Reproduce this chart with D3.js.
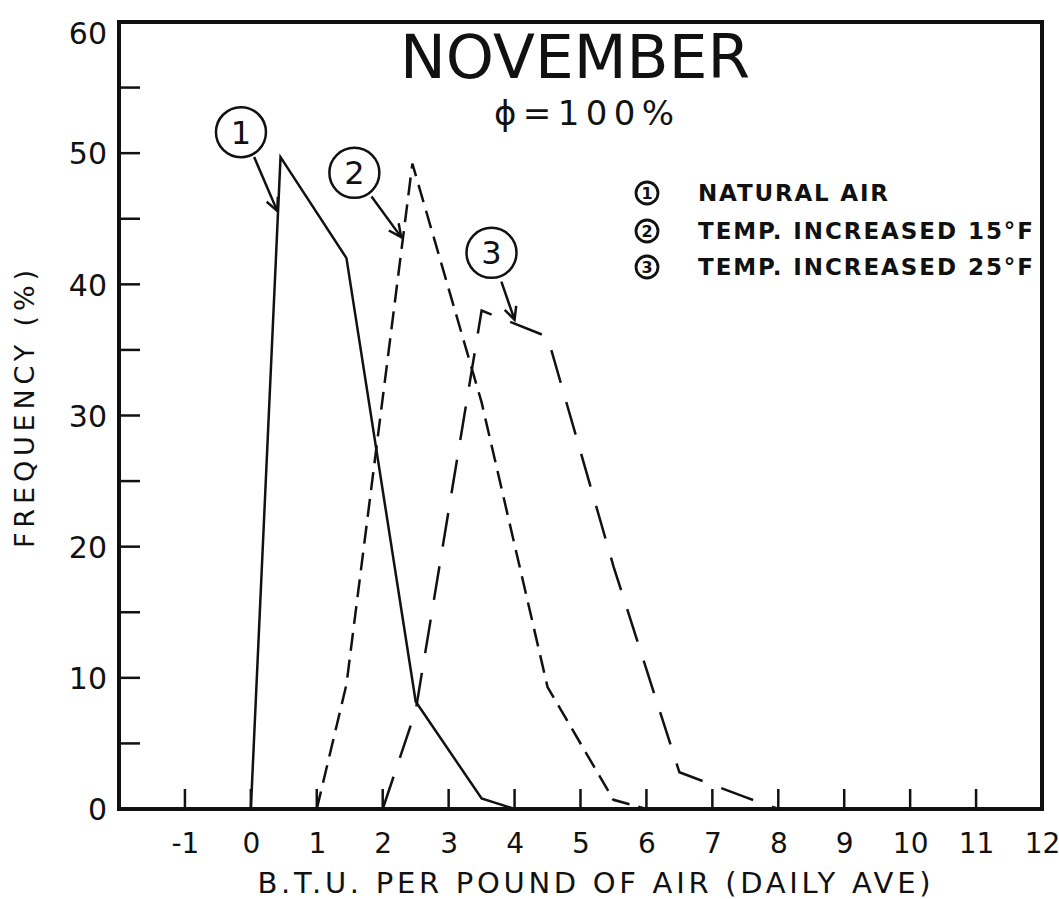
<!DOCTYPE html>
<html><head><meta charset="utf-8">
<script src="https://cdn.jsdelivr.net/npm/d3@7"></script>
<style>
html,body{margin:0;padding:0;background:#fff;}
text{font-family:"DejaVu Sans",sans-serif;fill:#111;}
</style></head>
<body>
<svg id="chart" width="1059" height="899"></svg>
<script>
// ---- data ----
const xTicks = [-1,0,1,2,3,4,5,6,7,8,9,10,11,12];
const yTicks = [0,10,20,30,40,50,60];
const yMinorTicks = [5,15,25,35,45,55];
const naturalAir = [[0,0],[0.45,49.7],[1.45,42],[2.5,8.2],[3.5,0.8],[4,0]];
const temp15 = [[1,0],[1.45,9.5],[2.45,49.2],[3.5,31],[4.5,9.3],[5.5,0.7],[6,0]];
const temp25 = [[2,0],[2.5,7.5],[3.5,38],[4.5,36],[5.5,18.5],[6.5,2.8],[7.5,0.9],[8,0]];
const legendLabels = ["NATURAL  AIR","TEMP.  INCREASED 15°F","TEMP.  INCREASED 25°F"];
const legendNums = ["1","2","3"];
// annotation callouts (data units): circle centre, arrow start, arrow end
const callouts = [
  {n:"1", c:[-0.15,51.6], a:[0.05,49.7], b:[0.4,45.6]},
  {n:"2", c:[1.57,48.5], a:[1.83,46.7], b:[2.28,43.6]},
  {n:"3", c:[3.65,42.4], a:[3.8,40.2], b:[4.0,37.3]}
];

const svg = d3.select("#chart");
const x = d3.scaleLinear().domain([-2,12]).range([119,1042]);
const y = d3.scaleLinear().domain([0,60]).range([809,22]);

// frame
svg.append("rect").attr("x",x(-2)).attr("y",y(60))
  .attr("width",x(12)-x(-2)).attr("height",y(0)-y(60))
  .attr("fill","none").attr("stroke","#111").attr("stroke-width",4);

// x ticks (inside, upward)
const xAxis = d3.axisBottom(x).tickValues(xTicks).tickSize(0).tickPadding(0).tickFormat(d=>d);
const gx = svg.append("g").attr("transform",`translate(0,${y(0)})`).call(xAxis);
gx.select(".domain").remove();
gx.selectAll(".tick line").remove();
gx.selectAll(".tick text").attr("y",44).attr("dy",0)
  .style("font-size","28px").style("font-family","DejaVu Sans, sans-serif").attr("fill","#111");
svg.append("g").selectAll("line").data(xTicks.filter(d=>d<12)).join("line")
  .attr("x1",d=>x(d)).attr("x2",d=>x(d)).attr("y1",y(0)).attr("y2",y(0)-20)
  .attr("stroke","#111").attr("stroke-width",2.5);

// y ticks
const yAxis = d3.axisLeft(y).tickValues(yTicks).tickSize(0).tickPadding(12).tickFormat(d=>d);
const gy = svg.append("g").attr("transform",`translate(${x(-2)},0)`).call(yAxis);
gy.select(".domain").remove();
gy.selectAll(".tick text").style("font-size","30px").style("font-family","DejaVu Sans, sans-serif")
  .attr("fill","#111").attr("dy",d=>d===60?"0.7em":"0.36em");
svg.append("g").selectAll("line").data(yTicks.filter(d=>d>0&&d<60).concat(yMinorTicks)).join("line")
  .attr("x1",x(-2)).attr("x2",x(-2)+21).attr("y1",d=>y(d)).attr("y2",d=>y(d))
  .attr("stroke","#111").attr("stroke-width",2.5);

// series
const line = d3.line().x(d=>x(d[0])).y(d=>y(d[1]));
svg.append("path").datum(naturalAir).attr("d",line).attr("fill","none")
  .attr("stroke","#111").attr("stroke-width",2.5);
svg.append("path").datum(temp15).attr("d",line).attr("fill","none")
  .attr("stroke","#111").attr("stroke-width",2.5).attr("stroke-dasharray","18,9");
svg.append("path").datum(temp25).attr("d",line).attr("fill","none")
  .attr("stroke","#111").attr("stroke-width",2.5).attr("stroke-dasharray","34,20");

// callouts
const cg = svg.append("g");
callouts.forEach(c=>{
  cg.append("circle").attr("cx",x(c.c[0])).attr("cy",y(c.c[1])).attr("r",25)
    .attr("fill","#fff").attr("stroke","#111").attr("stroke-width",2.5);
  cg.append("text").attr("x",x(c.c[0])).attr("y",y(c.c[1])).attr("dy","0.36em")
    .attr("text-anchor","middle").style("font-size","32px").text(c.n);
  const x1=x(c.a[0]), y1=y(c.a[1]), x2=x(c.b[0]), y2=y(c.b[1]);
  cg.append("line").attr("x1",x1).attr("y1",y1).attr("x2",x2).attr("y2",y2)
    .attr("stroke","#111").attr("stroke-width",2.5);
  const ang=Math.atan2(y2-y1,x2-x1), L=14, sp=0.45;
  const p=[[x2-L*Math.cos(ang-sp),y2-L*Math.sin(ang-sp)],[x2,y2],[x2-L*Math.cos(ang+sp),y2-L*Math.sin(ang+sp)]];
  cg.append("path").attr("d",d3.line()(p)).attr("fill","none").attr("stroke","#111").attr("stroke-width",2.5);
});

// title
svg.append("text").attr("x",575).attr("y",78).attr("text-anchor","middle")
  .style("font-size","60px").attr("textLength",350).attr("lengthAdjust","spacingAndGlyphs").text("NOVEMBER");
svg.append("text").attr("x",584).attr("y",125).attr("text-anchor","middle")
  .style("font-size","34px").attr("textLength",180).attr("lengthAdjust","spacing").text("ϕ=100%");

// legend
const lg = svg.append("g");
legendLabels.forEach((t,i)=>{
  const cy = [193,231,267][i];
  lg.append("circle").attr("cx",647).attr("cy",cy).attr("r",11)
    .attr("fill","none").attr("stroke","#111").attr("stroke-width",2.8);
  lg.append("text").attr("x",647).attr("y",cy).attr("dy","0.36em").attr("text-anchor","middle")
    .style("font-size","16px").style("font-weight","bold").text(legendNums[i]);
  lg.append("text").attr("x",698).attr("y",cy).attr("dy","0.36em")
    .style("font-size","23px").style("font-weight","bold").attr("textLength",[190,335,335][i]).attr("lengthAdjust","spacing").text(t);
});

// axis titles
svg.append("text").attr("x",594).attr("y",893).attr("text-anchor","middle")
  .style("font-size","29px").attr("textLength",673).attr("lengthAdjust","spacing")
  .text("B.T.U.  PER  POUND  OF  AIR  (DAILY  AVE)");
svg.append("text").attr("transform","translate(34,409) rotate(-90)").attr("text-anchor","middle")
  .style("font-size","27px").attr("textLength",278).attr("lengthAdjust","spacing")
  .text("FREQUENCY  (%)");
</script>
</body></html>
